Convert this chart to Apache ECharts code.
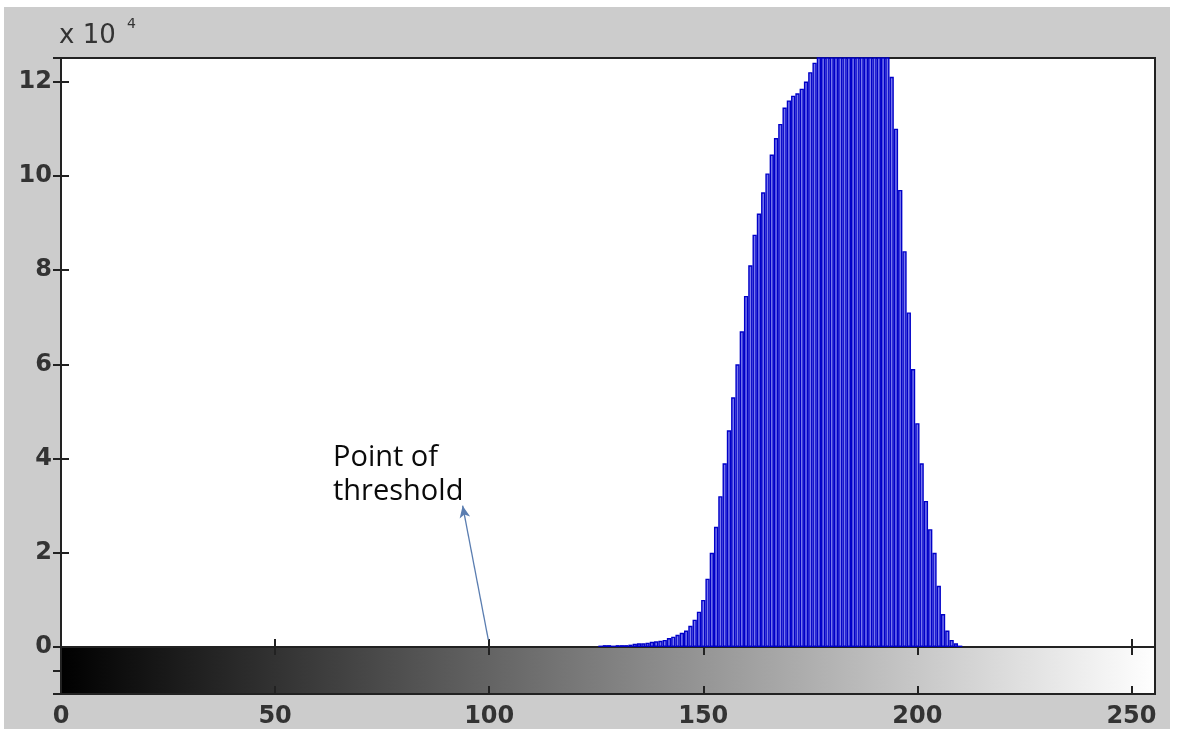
<!DOCTYPE html>
<html>
<head>
<meta charset="utf-8">
<script src="https://cdn.jsdelivr.net/npm/echarts@6/dist/echarts.min.js"></script>
<style>
  html, body { margin: 0; padding: 0; background: #ffffff; }
  #chart { position: absolute; left: 4px; top: 7px; width: 1166px; height: 722px; background: #cccccc; }
</style>
</head>
<body>
<div id="chart"></div>
<script>
// grey levels (x) and pixel counts (y)
let grayLevels = [126, 127, 128, 129, 130, 131, 132, 133, 134, 135, 136, 137, 138, 139, 140,
  141, 142, 143, 144, 145, 146, 147, 148, 149, 150, 151, 152, 153, 154, 155,
  156, 157, 158, 159, 160, 161, 162, 163, 164, 165, 166, 167, 168, 169, 170,
  171, 172, 173, 174, 175, 176, 177, 178, 179, 180, 181, 182, 183, 184, 185,
  186, 187, 188, 189, 190, 191, 192, 193, 194, 195, 196, 197, 198, 199, 200,
  201, 202, 203, 204, 205, 206, 207, 208, 209, 210];
let pixelCounts = [300, 400, 400, 300, 400, 400, 400, 500, 700, 800, 800, 900, 1100, 1200, 1300,
  1500, 1900, 2200, 2600, 3000, 3500, 4500, 5800, 7500, 10000, 14500, 20000, 25500, 32000, 39000,
  46000, 53000, 60000, 67000, 74500, 81000, 87500, 92000, 96500, 100500, 104500, 108000, 111000, 114500, 116000,
  117000, 117500, 118500, 120000, 122000, 124000, 126000, 128000, 129000, 130000, 131000, 131000, 132000, 132000, 131000,
  131000, 130000, 130000, 129000, 128000, 127000, 126000, 125500, 121000, 110000, 97000, 84000, 71000, 59000, 47500,
  39000, 31000, 25000, 20000, 13000, 7000, 3500, 1500, 800, 300];

let xMin = 0, xMax = 255.5, xStep = 50;
let yMin = 0, yMax = 125000, yStep = 20000;
let yScaleLabel = 'x 10';
let yScaleExp = '4';

// arrow of the annotation, in data units: [grey level, count]
let arrowFrom = [99.8, 1500];
let arrowTo = [93.8, 30000];
let noteText = 'Point of\nthreshold';

let chart = echarts.init(document.getElementById('chart'));

let labelFont = {fontFamily: 'DejaVu Sans', fontSize: 24, fontWeight: 'bold', color: '#333333'};
let tickStyle = {color: '#222222', width: 2};

function xAxisFor(grid, pos, showLabel) {
  return {
    type: 'value', gridIndex: grid, position: pos,
    min: xMin, max: xMax, interval: xStep,
    axisLine: {show: false},
    axisTick: {show: true, inside: true, length: 8, lineStyle: tickStyle},
    axisLabel: Object.assign({show: showLabel, margin: 11, showMaxLabel: false}, labelFont),
    splitLine: {show: false}
  };
}

let data = grayLevels.map((g, i) => [g, pixelCounts[i]]);

let option = {
  animation: false,
  backgroundColor: 'transparent',
  grid: [
    {left: 57, right: 15, top: 51, height: 589, show: true, backgroundColor: '#ffffff',
      borderColor: '#222222', borderWidth: 2},
    {left: 57, right: 15, top: 640, height: 48, show: true,
      backgroundColor: {type: 'linear', x: 0, y: 0, x2: 1, y2: 0,
        colorStops: [{offset: 0, color: '#000000'}, {offset: 1, color: '#ffffff'}]},
      borderColor: '#222222', borderWidth: 2}
  ],
  xAxis: [
    xAxisFor(0, 'bottom', false),
    xAxisFor(0, 'top', false),
    xAxisFor(1, 'bottom', true),
    xAxisFor(1, 'top', false)
  ],
  yAxis: [
    {
      type: 'value', gridIndex: 0, position: 'left',
      min: yMin, max: yMax, interval: yStep,
      axisLine: {show: false},
      axisTick: {show: true, inside: true, length: 8, lineStyle: tickStyle},
      axisLabel: Object.assign({margin: 9, showMaxLabel: false,
        formatter: v => String(v / 10000)}, labelFont),
      splitLine: {show: false}
    },
    {
      type: 'value', gridIndex: 0, position: 'right',
      min: yMin, max: yMax, interval: yStep,
      axisLine: {show: false},
      axisTick: {show: true, inside: true, length: 8, lineStyle: tickStyle},
      axisLabel: {show: false},
      splitLine: {show: false}
    },
    {
      type: 'value', gridIndex: 1, position: 'right',
      min: 0, max: 1, interval: 0.5,
      axisLine: {show: false},
      axisTick: {show: true, inside: true, length: 8, lineStyle: tickStyle},
      axisLabel: {show: false},
      splitLine: {show: false}
    }
  ],
  graphic: [
    {type: 'text', left: 55, top: 16, style: {text: yScaleLabel, font: '26px "DejaVu Sans"', fill: '#333333'}},
    {type: 'text', left: 123, top: 10, style: {text: yScaleExp, font: '14px "DejaVu Sans"', fill: '#333333'}},
    {type: 'text', left: 329, top: 434, style: {text: noteText, font: '29px "Open Sans"', lineHeight: 34, fill: '#0a0a0a'}}
  ],
  series: [
    {
      type: 'bar',
      xAxisIndex: 0, yAxisIndex: 0,
      barWidth: '100%',
      clip: true,
      itemStyle: {color: '#7878ee', borderColor: '#0000c8', borderWidth: 1.4},
      data: data,
      markLine: {
        silent: true,
        symbol: ['none', 'arrow'],
        symbolSize: [8, 12],
        label: {show: false},
        lineStyle: {color: '#5a7db0', width: 1.3, type: 'solid'},
        data: [[{coord: arrowFrom}, {coord: arrowTo}]]
      }
    }
  ]
};

chart.setOption(option);
</script>
</body>
</html>
